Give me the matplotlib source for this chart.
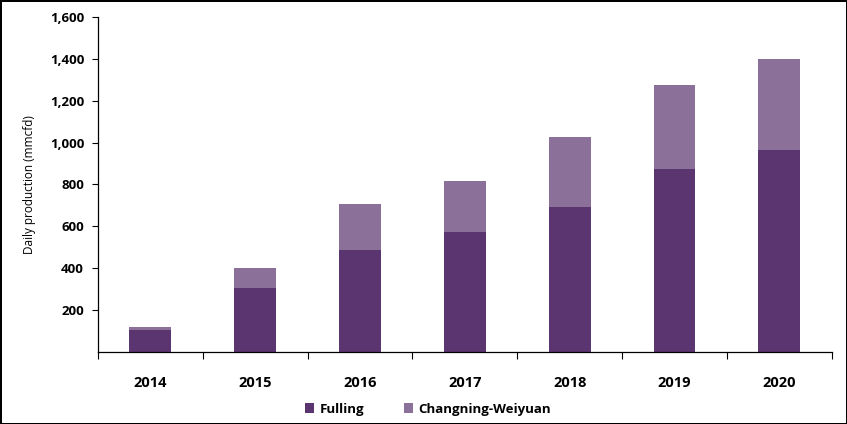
import numpy as np
import matplotlib.pyplot as plt

years = ['2014', '2015', '2016', '2017', '2018', '2019', '2020']
fulling = [105, 305, 485, 575, 690, 875, 965]
changning = [15, 95, 220, 240, 335, 400, 435]

c_full = '#5B3570'
c_chang = '#8B7199'

plt.rcParams['font.family'] = ['Open Sans', 'DejaVu Sans']

fig = plt.figure(figsize=(8.47, 4.24), dpi=100)
ax = fig.add_axes([0.1157, 0.17, 0.8663, 0.79])

x = np.arange(len(years))
ax.bar(x, fulling, width=0.4, color=c_full, label='Fulling')
ax.bar(x, changning, width=0.4, bottom=fulling, color=c_chang, label='Changning-Weiyuan')

ax.set_xlim(-0.5, len(years) - 0.5)
ax.set_ylim(0, 1600)
ax.set_yticks(np.arange(200, 1601, 200))
ax.set_yticklabels(['{:,}'.format(v) for v in range(200, 1601, 200)], fontsize=9.5, fontweight='bold')
ax.tick_params(axis='y', direction='out', length=4, width=0.8, pad=6)

ax.set_xticks(np.arange(-0.5, len(years), 1.0))
ax.set_xticklabels([])
ax.tick_params(axis='x', which='major', direction='out', length=5, width=0.8)
ax.set_xticks(x, minor=True)
ax.set_xticklabels(years, minor=True, fontsize=10.5, fontweight='bold')
ax.tick_params(axis='x', which='minor', length=0, pad=17)

for s in ['top', 'right']:
    ax.spines[s].set_visible(False)
for s in ['left', 'bottom']:
    ax.spines[s].set_linewidth(0.9)

ax.set_ylabel('Daily production (mmcfd)', fontsize=8.5, labelpad=10)

fig.legend(loc='center', bbox_to_anchor=(0.505, 0.035), ncol=2, frameon=False,
           handlelength=0.7, handleheight=0.7, handletextpad=0.4,
           columnspacing=3.0, prop={'weight': 'bold', 'size': 9.5})

fig.patch.set_edgecolor('black')
fig.patch.set_linewidth(1.0)
fig.savefig('out.png', dpi=100, edgecolor='black')
